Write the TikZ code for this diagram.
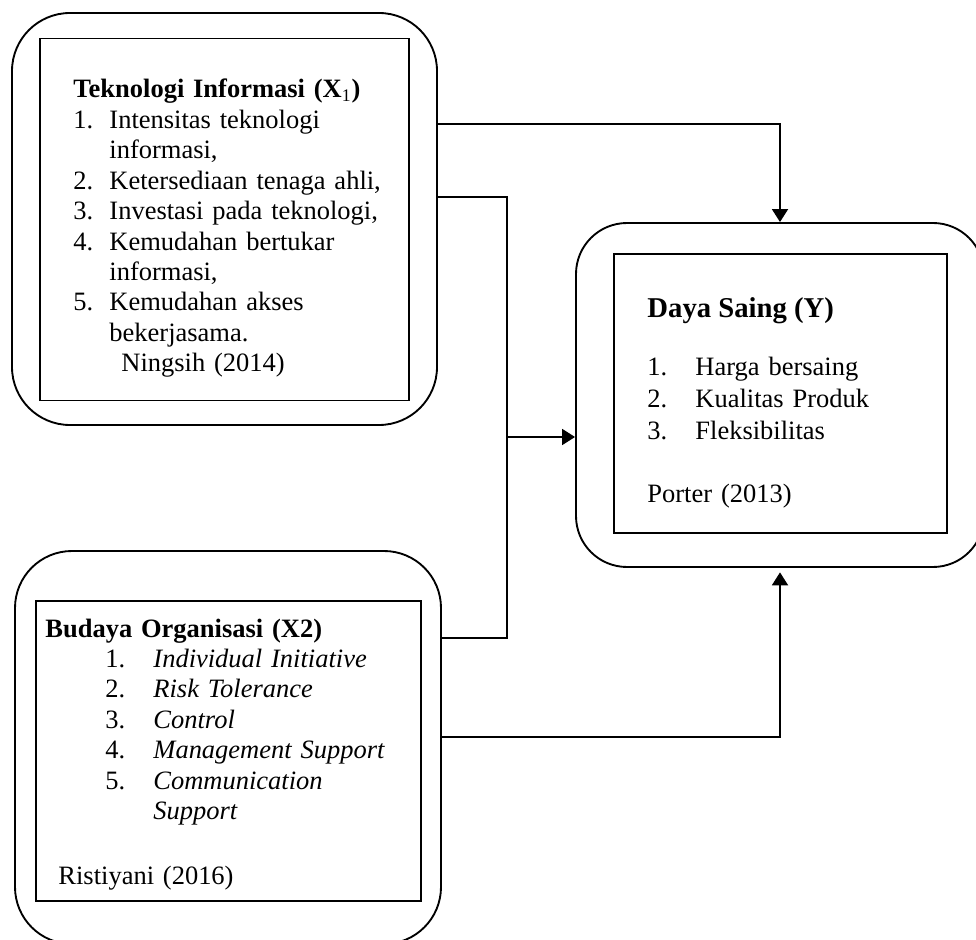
\documentclass[tikz,border=0pt]{standalone}
\usepackage{fontspec}
\setmainfont{Liberation Serif}
\usepackage{tikz}
\usetikzlibrary{positioning, calc, arrows.meta}
\newlength{\pxl}
\setlength{\pxl}{0.453pt}
\newcommand{\numbox}[2][36]{\makebox[#1\pxl][l]{#2}}
\tikzstyle{Link} = [line width=0.85pt]
\tikzstyle{Arrow} = [
Link,
-{Triangle[length=5.9pt, width=7.25pt]}]
\tikzstyle{OuterBox} = [draw, line width=0.85pt, inner sep=0pt]
\tikzstyle{InnerBox} = [draw, line width=0.85pt, inner sep=0pt]
\tikzstyle{ListText} = [inner sep=0pt, align=left,
font=\fontsize{12}{13.8}\selectfont]

\begin{document}
\begin{tikzpicture}[x=0.453pt, y=-0.453pt]
    \clip (0,0) rectangle (976,940);

    \node[OuterBox, rounded corners=58\pxl, minimum width=425\pxl, minimum height=412\pxl] (tiOuter) at (224.5,219) {};
    \node[InnerBox, minimum width=369\pxl, minimum height=362\pxl] (tiInner) at (224.5,219.5) {};
    \node[ListText, anchor=base west, text width=330\pxl] (tiText) at (73,97.7) {%
        \textbf{Teknologi Informasi (X\textsubscript{\mdseries 1})}\\
        \numbox{1.}Intensitas teknologi\\
        \numbox{}informasi,\\
        \numbox{2.}Ketersediaan tenaga ahli,\\
        \numbox{3.}Investasi pada teknologi,\\
        \numbox{4.}Kemudahan bertukar\\
        \numbox{}informasi,\\
        \numbox{5.}Kemudahan akses\\
        \numbox{}bekerjasama.\\
        \hspace*{48\pxl}Ningsih (2014)};

    \node[OuterBox, rounded corners=57\pxl, minimum width=426\pxl, minimum height=393\pxl] (boOuter) at (228,747.5) {};
    \node[InnerBox, minimum width=385\pxl, minimum height=300\pxl] (boInner) at (228.5,751) {};
    \node[ListText, anchor=base west, text width=370\pxl] (boText) at (45,637) {%
        \textbf{Budaya Organisasi (X2)}\\
        \hspace*{60\pxl}\numbox[48]{1.}\textit{Individual Initiative}\\
        \hspace*{60\pxl}\numbox[48]{2.}\textit{Risk Tolerance}\\
        \hspace*{60\pxl}\numbox[48]{3.}\textit{Control}\\
        \hspace*{60\pxl}\numbox[48]{4.}\textit{Management Support}\\
        \hspace*{60\pxl}\numbox[48]{5.}\textit{Communication}\\
        \hspace*{60\pxl}\numbox[48]{}\textit{Support}\\[15.3pt]
        \hspace*{13\pxl}Ristiyani (2016)};

    \node[OuterBox, rounded corners=51\pxl, minimum width=408\pxl, minimum height=344\pxl] (dsOuter) at (780,395) {};
    \node[InnerBox, minimum width=333\pxl, minimum height=279\pxl] (dsInner) at (780.5,393.5) {};
    \node[ListText, anchor=base west, font=\fontsize{13}{15}\selectfont] (dsHead) at (647,318) {\textbf{Daya Saing (Y)}};
    \node[ListText, anchor=base west, text width=280\pxl, font=\fontsize{12}{14.7}\selectfont] (dsText) at (647,375) {%
        \numbox[48]{1.}Harga bersaing\\
        \numbox[48]{2.}Kualitas Produk\\
        \numbox[48]{3.}Fleksibilitas\\[13.8pt]
        Porter (2013)};

    \coordinate (lvA) at (0,124);
    \coordinate (lvB) at (0,737);
    \coordinate (jTop) at (507,197);
    \coordinate (jMid) at (507,437);
    \coordinate (jBot) at (507,638);

    \draw[Arrow] (tiOuter.east |- lvA) -| (dsOuter.north);
    \draw[Link] (tiOuter.east |- jTop) -- (jTop) -- (jBot) -- (boOuter.east |- jBot);
    \draw[Arrow] (jMid) -- (dsOuter.west |- jMid);
    \draw[Arrow, shorten >=2pt] (boOuter.east |- lvB) -| (dsOuter.south);
\end{tikzpicture}
\end{document}
